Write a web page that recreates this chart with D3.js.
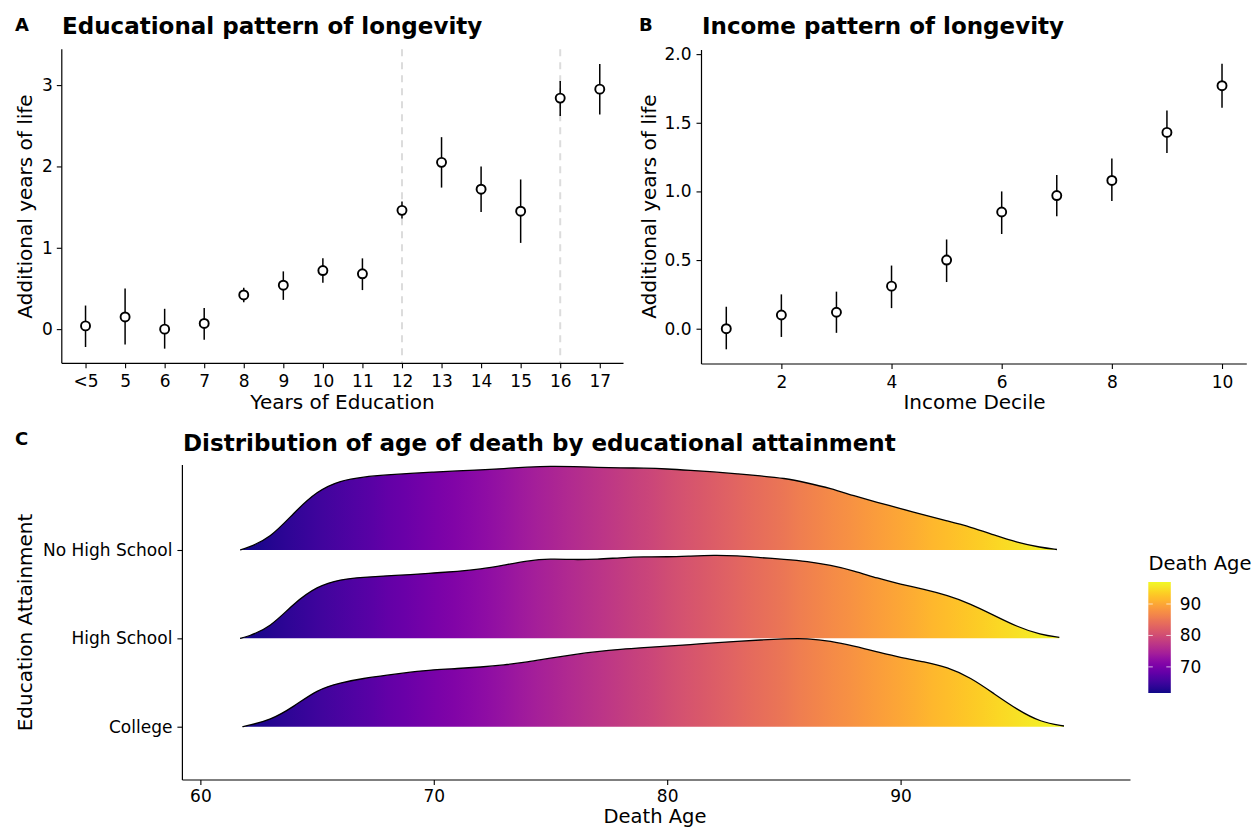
<!DOCTYPE html>
<html>
<head>
<meta charset="utf-8">
<script src="https://cdn.jsdelivr.net/npm/d3@7"></script>
<style>
  body { margin: 0; background: #fff; }
  text { font-family: "DejaVu Sans", sans-serif; fill: #000; }
</style>
</head>
<body>
<svg id="chart" width="1257" height="827"></svg>
<script>
// ---- Panel A: additional years of life by years of education ----
const eduYears  = ["<5", "5", "6", "7", "8", "9", "10", "11", "12", "13", "14", "15", "16", "17"];
const eduEffect = [0.04, 0.15, 0.00, 0.07, 0.42, 0.54, 0.72, 0.68, 1.46, 2.05, 1.72, 1.45, 2.84, 2.95];
const eduLower  = [-0.22, -0.19, -0.24, -0.13, 0.33, 0.36, 0.57, 0.48, 1.36, 1.74, 1.44, 1.06, 2.62, 2.64];
const eduUpper  = [0.29, 0.50, 0.25, 0.26, 0.51, 0.71, 0.87, 0.87, 1.57, 2.36, 2.00, 1.84, 3.05, 3.26];
const eduCutoffs = ["12", "16"];
const eduYTicks = [0, 1, 2, 3];

// ---- Panel B: additional years of life by income decile ----
const incomeDecile = [1, 2, 3, 4, 5, 6, 7, 8, 9, 10];
const incomeEffect = [0.00, 0.10, 0.12, 0.31, 0.50, 0.85, 0.97, 1.08, 1.43, 1.77];
const incomeLower  = [-0.15, -0.06, -0.03, 0.15, 0.34, 0.69, 0.82, 0.93, 1.28, 1.61];
const incomeUpper  = [0.16, 0.25, 0.27, 0.46, 0.65, 1.00, 1.12, 1.24, 1.59, 1.93];
const incomeXTicks = [2, 4, 6, 8, 10];
const incomeYTicks = [0, 0.5, 1, 1.5, 2];

// ---- Panel C: density of age at death by attainment (relative density) ----
const attainment = ["No High School", "High School", "College"];
const noHsAges = [61.7, 62, 63, 64, 65, 66, 67, 68, 69, 70, 71, 72, 73, 74, 75, 76, 77, 78, 79, 80,
                  81, 82, 83, 84, 85, 86, 87, 88, 89, 90, 91, 92, 93, 94, 95, 96, 96.7];
const noHsDensity = [0, 2, 12, 37, 59, 69.5, 73, 75, 76.5, 77.8, 79, 80, 81.3, 82.7, 83.8, 83.3, 82.5, 82, 81.8, 81,
                     79.5, 78, 76, 74, 71.8, 67, 61.5, 54, 47.5, 41.5, 35, 29, 23, 15, 7.5, 2.5, 0.5];
const hsAges = [61.7, 62, 63, 64, 65, 66, 67, 68, 69, 70, 71, 72, 73, 74, 75, 76, 77, 78, 79, 80,
                81, 82, 83, 84, 85, 86, 87, 88, 89, 90, 91, 92, 93, 94, 95, 96, 96.8];
const hsDensity = [0, 1.5, 11, 35, 52, 59, 61, 62.5, 63.5, 65.3, 66.8, 69, 73, 77.5, 79.5, 78.5, 79, 80.5, 81.5, 81.3,
                   82.2, 83, 82.5, 80.5, 79, 77, 73, 67.5, 60, 54, 49, 43, 34.5, 23, 11.5, 3.5, 1];
const collegeAges = [61.8, 62, 63, 64, 65, 66, 67, 68, 69, 70, 71, 72, 73, 74, 75, 76, 77, 78, 79, 80,
                     81, 82, 83, 84, 85, 86, 87, 88, 89, 90, 91, 92, 93, 94, 95, 96, 97.0];
const collegeDensity = [0, 1, 6.5, 20, 37, 44, 48.3, 51.5, 54.5, 57, 58, 59.5, 61.5, 64.5, 68.5, 72, 75, 77.3, 79, 80.5,
                        82, 83.7, 85.2, 86.6, 87.7, 88.2, 85.5, 80.5, 74.8, 69, 65, 59.5, 49, 33, 17, 4.5, 0.7];
const deathAgeTicks = [60, 70, 80, 90];
const legendTicks = [70, 80, 90];

const TICK_FONT = 17;
const TITLE_FONT = 23;
const AXIS_TITLE_FONT = 20;

const svg = d3.select("#chart");

function styleAxis(g, size) {
  g.select(".domain").remove();
  g.selectAll(".tick line").attr("stroke", "#000").attr("stroke-width", 1.1);
  g.selectAll(".tick text").style("font-size", size + "px").attr("fill", "#000");
}

function axisLine(x1, y1, x2, y2) {
  svg.append("line").attr("x1", x1).attr("y1", y1).attr("x2", x2).attr("y2", y2)
    .attr("stroke", "#000").attr("stroke-width", 1.2);
}

function pointRange(ys, lo, hi, xf, yScale) {
  const g = svg.append("g");
  g.selectAll("line.err").data(ys).join("line").attr("class", "err")
    .attr("x1", (d, i) => xf(i)).attr("x2", (d, i) => xf(i))
    .attr("y1", (d, i) => yScale(lo[i])).attr("y2", (d, i) => yScale(hi[i]))
    .attr("stroke", "#000").attr("stroke-width", 1.5);
  g.selectAll("circle").data(ys).join("circle")
    .attr("cx", (d, i) => xf(i)).attr("cy", d => yScale(d)).attr("r", 4.5)
    .attr("fill", "#fff").attr("stroke", "#000").attr("stroke-width", 1.9);
}

// ================= Panel A =================
const xA = d3.scalePoint().domain(eduYears).range([61.8, 623.5]).padding(0.6);
const yA = d3.scaleLinear().domain([-0.42, 3.44]).range([363.3, 49.3]);

svg.selectAll("line.cut").data(eduCutoffs).join("line").attr("class", "cut")
  .attr("x1", d => xA(d)).attr("x2", d => xA(d))
  .attr("y1", yA.range()[1]).attr("y2", yA.range()[0])
  .attr("stroke", "#dcdcdc").attr("stroke-width", 2).attr("stroke-dasharray", "7,6");

svg.append("g").attr("transform", "translate(61.8,0)")
  .call(d3.axisLeft(yA).tickValues(eduYTicks).tickSize(5).tickPadding(4).tickFormat(d3.format("d")))
  .call(g => styleAxis(g, TICK_FONT));
svg.append("g").attr("transform", "translate(0,363.3)")
  .call(d3.axisBottom(xA).tickSize(5).tickPadding(7))
  .call(g => styleAxis(g, TICK_FONT));
axisLine(61.8, yA.range()[1], 61.8, 363.3);
axisLine(61.8, 363.3, 623.5, 363.3);

pointRange(eduEffect, eduLower, eduUpper, i => xA(eduYears[i]), yA);

svg.append("text").attr("x", 15).attr("y", 31).style("font-size", "18px").style("font-weight", "bold").text("A");
svg.append("text").attr("x", 62).attr("y", 34).style("font-size", TITLE_FONT + "px").style("font-weight", "bold")
  .text("Educational pattern of longevity");
svg.append("text").attr("transform", "translate(32,206.5) rotate(-90)").attr("text-anchor", "middle")
  .style("font-size", AXIS_TITLE_FONT + "px").text("Additional years of life");
svg.append("text").attr("x", 342.5).attr("y", 409).attr("text-anchor", "middle")
  .style("font-size", AXIS_TITLE_FONT + "px").text("Years of Education");

// ================= Panel B =================
const xB = d3.scaleLinear().domain([0.55, 10.45]).range([701.5, 1246.8]);
const yB = d3.scaleLinear().domain([-0.257, 2.03]).range([364, 50]);

svg.append("g").attr("transform", "translate(701.5,0)")
  .call(d3.axisLeft(yB).tickValues(incomeYTicks).tickSize(5).tickPadding(5).tickFormat(d3.format(".1f")))
  .call(g => styleAxis(g, TICK_FONT));
svg.append("g").attr("transform", "translate(0,364)")
  .call(d3.axisBottom(xB).tickValues(incomeXTicks).tickSize(5).tickPadding(7).tickFormat(d3.format("d")))
  .call(g => styleAxis(g, TICK_FONT));
axisLine(701.5, 50, 701.5, 364);
axisLine(701.5, 364, 1246.8, 364);

pointRange(incomeEffect, incomeLower, incomeUpper, i => xB(incomeDecile[i]), yB);

svg.append("text").attr("x", 639).attr("y", 31).style("font-size", "18px").style("font-weight", "bold").text("B");
svg.append("text").attr("x", 702).attr("y", 34).style("font-size", TITLE_FONT + "px").style("font-weight", "bold")
  .text("Income pattern of longevity");
svg.append("text").attr("transform", "translate(656,206.5) rotate(-90)").attr("text-anchor", "middle")
  .style("font-size", AXIS_TITLE_FONT + "px").text("Additional years of life");
svg.append("text").attr("x", 974.5).attr("y", 409).attr("text-anchor", "middle")
  .style("font-size", AXIS_TITLE_FONT + "px").text("Income Decile");

// ================= Panel C =================
const xC = d3.scaleLinear().domain([59.23, 99.85]).range([182.4, 1130.5]);
const yC = d3.scalePoint().domain(attainment).range([550, 726.7]);
const step = yC.step();
const allDensity = noHsDensity.concat(hsDensity, collegeDensity);
const hC = d3.scaleLinear().domain([0, d3.max(allDensity)]).range([0, step]);
const ageMin = d3.min([noHsAges[0], hsAges[0], collegeAges[0]]);
const ageMax = d3.max([noHsAges[noHsAges.length - 1], hsAges[hsAges.length - 1], collegeAges[collegeAges.length - 1]]);
const colour = d3.scaleSequential(d3.interpolatePlasma).domain([ageMin, ageMax]);

const defs = svg.append("defs");
const grad = defs.append("linearGradient").attr("id", "ageGrad")
  .attr("gradientUnits", "userSpaceOnUse")
  .attr("x1", xC(ageMin)).attr("x2", xC(ageMax)).attr("y1", 0).attr("y2", 0);
d3.range(0, 1.0001, 0.02).forEach(t => {
  grad.append("stop").attr("offset", t).attr("stop-color", colour(ageMin + t * (ageMax - ageMin)));
});
const legGrad = defs.append("linearGradient").attr("id", "legGrad")
  .attr("x1", 0).attr("x2", 0).attr("y1", 1).attr("y2", 0);
d3.range(0, 1.0001, 0.02).forEach(t => {
  legGrad.append("stop").attr("offset", t).attr("stop-color", colour(ageMin + t * (ageMax - ageMin)));
});

const ridges = [
  { name: attainment[0], ages: noHsAges, dens: noHsDensity },
  { name: attainment[1], ages: hsAges, dens: hsDensity },
  { name: attainment[2], ages: collegeAges, dens: collegeDensity }
];

ridges.forEach(r => {
  const base = yC(r.name);
  const pts = r.ages.map((a, i) => [a, r.dens[i]]);
  const area = d3.area().curve(d3.curveBasis)
    .x(d => xC(d[0])).y0(base).y1(d => base - hC(d[1]));
  const line = d3.line().curve(d3.curveBasis)
    .x(d => xC(d[0])).y(d => base - hC(d[1]));
  svg.append("path").attr("d", area(pts)).attr("fill", "url(#ageGrad)");
  svg.append("path").attr("d", line(pts)).attr("fill", "none")
    .attr("stroke", "#000").attr("stroke-width", 1.3);
});

svg.append("g").attr("transform", "translate(182.4,0)")
  .call(d3.axisLeft(yC).tickSize(5).tickPadding(5))
  .call(g => styleAxis(g, TICK_FONT));
svg.append("g").attr("transform", "translate(0,780)")
  .call(d3.axisBottom(xC).tickValues(deathAgeTicks).tickSize(5).tickPadding(5).tickFormat(d3.format("d")))
  .call(g => styleAxis(g, TICK_FONT));
axisLine(182.4, 465, 182.4, 780);
axisLine(182.4, 780, 1130.5, 780);

svg.append("text").attr("x", 15).attr("y", 445).style("font-size", "18px").style("font-weight", "bold").text("C");
svg.append("text").attr("x", 183).attr("y", 450.5).style("font-size", TITLE_FONT + "px").style("font-weight", "bold")
  .text("Distribution of age of death by educational attainment");
svg.append("text").attr("transform", "translate(32,622.5) rotate(-90)").attr("text-anchor", "middle")
  .style("font-size", AXIS_TITLE_FONT + "px").text("Education Attainment");
svg.append("text").attr("x", 655).attr("y", 823).attr("text-anchor", "middle")
  .style("font-size", "19.5px").text("Death Age");

// Colour bar legend
const legY = d3.scaleLinear().domain([ageMin, ageMax]).range([693, 582]);
const legX = 1148.3, legW = 22.5;
svg.append("text").attr("x", 1148.5).attr("y", 570).style("font-size", "19.5px").text("Death Age");
svg.append("rect").attr("x", legX).attr("y", legY(ageMax)).attr("width", legW)
  .attr("height", legY(ageMin) - legY(ageMax)).attr("fill", "url(#legGrad)");
const lt = svg.append("g");
legendTicks.forEach(v => {
  lt.append("line").attr("x1", legX).attr("x2", legX + legW * 0.2).attr("y1", legY(v)).attr("y2", legY(v))
    .attr("stroke", "#fff").attr("stroke-opacity", 0.7).attr("stroke-width", 1);
  lt.append("line").attr("x1", legX + legW * 0.8).attr("x2", legX + legW).attr("y1", legY(v)).attr("y2", legY(v))
    .attr("stroke", "#fff").attr("stroke-opacity", 0.7).attr("stroke-width", 1);
  lt.append("text").attr("x", legX + legW + 9).attr("y", legY(v)).attr("dy", "0.35em")
    .style("font-size", TICK_FONT + "px").text(v);
});
</script>
</body>
</html>
